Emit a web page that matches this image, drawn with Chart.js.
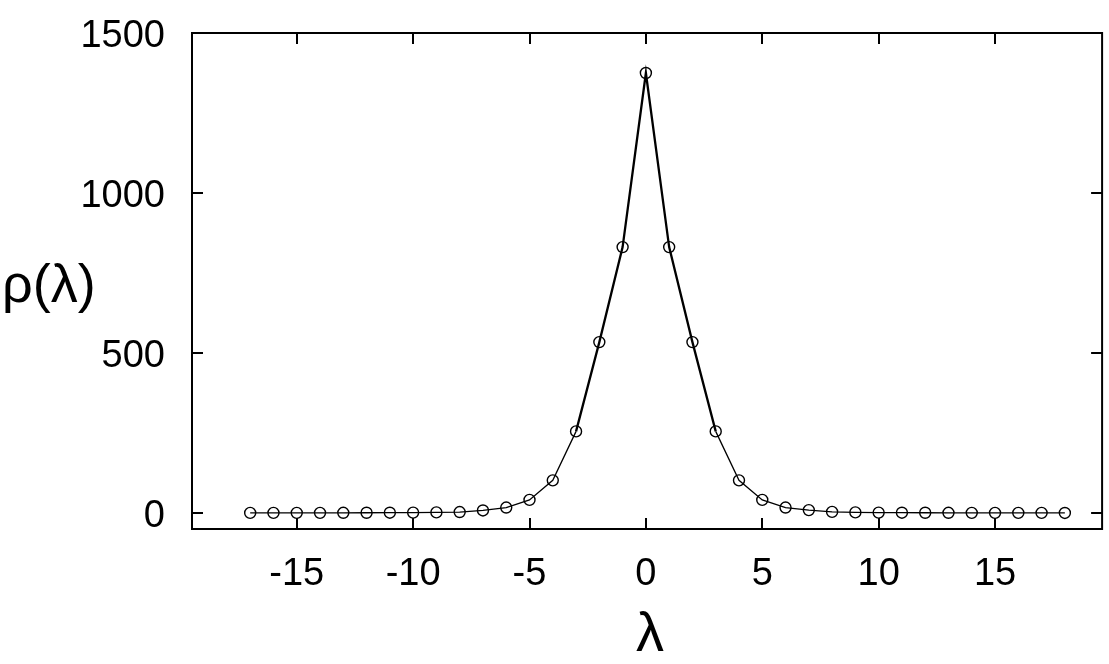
<!DOCTYPE html>
<html>
<head>
<meta charset="utf-8">
<script src="https://cdn.jsdelivr.net/npm/chart.js@4/dist/chart.umd.min.js"></script>
<style>
	html, body { margin: 0; padding: 0; background: #fff; }
	#wrap { width: 1109px; height: 664px; }
</style>
</head>
<body>
<div id="wrap"><canvas id="ChartCanvas" width="1109" height="664"></canvas></div>
<script>
// values
const lambdaVals = [-17, -16, -15, -14, -13, -12, -11, -10, -9, -8, -7, -6, -5, -4, -3, -2, -1, 0,
	1, 2, 3, 4, 5, 6, 7, 8, 9, 10, 11, 12, 13, 14, 15, 16, 17, 18];
const rhoVals = [0.3, 0.3, 0.4, 0.5, 0.6, 0.8, 1, 1.3, 1.8, 3, 8, 17, 41, 102, 255, 534, 831, 1375,
	831, 534, 255, 102, 41, 17, 9, 3.5, 1.8, 1.3, 1, 0.8, 0.6, 0.5, 0.4, 0.3, 0.3, 0.2];
const xTicks = [-15, -10, -5, 0, 5, 10, 15];
const yTicks = [0, 500, 1000, 1500];
const xTitle = 'λ';
const yTitle = 'ρ(λ)';

const FONT = '"Liberation Sans", Arial, sans-serif';

// box, inward ticks on all four sides, labels and titles
const framePlugin = {
	id: 'frame',
	afterDraw(chart) {
		const c = chart.ctx;
		const a = chart.chartArea;
		const sx = chart.scales.x, sy = chart.scales.y;
		c.save();
		c.strokeStyle = '#000';
		c.lineWidth = 2;
		c.strokeRect(a.left, a.top, a.right - a.left, a.bottom - a.top);
		c.beginPath();
		xTicks.forEach(function (v) {
			let px = Math.round(sx.getPixelForValue(v));
			c.moveTo(px, a.bottom); c.lineTo(px, a.bottom - 11);
			c.moveTo(px, a.top); c.lineTo(px, a.top + 11);
		});
		yTicks.forEach(function (v) {
			let py = Math.round(sy.getPixelForValue(v));
			c.moveTo(a.left, py); c.lineTo(a.left + 11, py);
			c.moveTo(a.right, py); c.lineTo(a.right - 11, py);
		});
		c.stroke();

		c.fillStyle = '#000';
		c.font = '38px ' + FONT;
		c.textBaseline = 'alphabetic';
		c.textAlign = 'center';
		xTicks.forEach(function (v) {
			c.fillText(String(v), sx.getPixelForValue(v), 585);
		});
		c.textAlign = 'right';
		yTicks.forEach(function (v) {
			c.fillText(String(v), 165, sy.getPixelForValue(v) + 13.5);
		});

		c.font = '54px ' + FONT;
		c.textAlign = 'left';
		c.fillText(yTitle, 2, 302);
		c.font = '56px ' + FONT;
		c.textAlign = 'center';
		c.fillText(xTitle, 650, 651);
		c.restore();
	}
};

var ctx = document.getElementById('ChartCanvas').getContext('2d');
var chart = new Chart(ctx, {
	type: 'line',
	data: {
		datasets: [{
			data: lambdaVals.map(function (x, i) { return { x: x, y: rhoVals[i] }; }),
			borderColor: '#000',
			borderWidth: 1.3,
			pointRadius: 5.5,
			pointBorderWidth: 1.4,
			pointBorderColor: '#000',
			pointBackgroundColor: 'rgba(255,255,255,0)',
			tension: 0,
			segment: {
				borderWidth: function (s) {
					return (Math.abs(s.p0.parsed.x) <= 3 && Math.abs(s.p1.parsed.x) <= 3) ? 2.3 : 1.3;
				}
			}
		}]
	},
	options: {
		responsive: false,
		animation: false,
		layout: { padding: { top: 33, right: 4, left: 0, bottom: 0 } },
		plugins: { legend: { display: false }, tooltip: { enabled: false } },
		scales: {
			x: {
				type: 'linear',
				min: -19.5,
				max: 19.6,
				grid: { display: false },
				border: { display: false },
				ticks: { display: false },
				afterFit: function (s) { s.height = 135; }
			},
			y: {
				min: -50,
				max: 1500,
				grid: { display: false },
				border: { display: false },
				ticks: { display: false },
				afterFit: function (s) { s.width = 192; }
			}
		}
	},
	plugins: [framePlugin]
});
</script>
</body>
</html>
